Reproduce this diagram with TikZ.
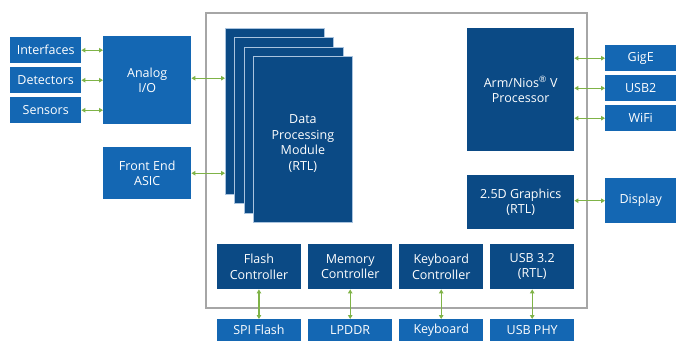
\documentclass[tikz,border=0pt]{standalone}
\usepackage{fontspec}
\setmainfont{Open Sans}
\usetikzlibrary{arrows.meta}
\definecolor{extblue}{HTML}{1467B3}
\definecolor{intblue}{HTML}{0B4A85}
\definecolor{linkgreen}{HTML}{7FB347}
\definecolor{framegray}{HTML}{A6A6A6}
\definecolor{stackedge}{HTML}{A9C3DE}
\begin{document}
\begin{tikzpicture}[x=1pt,y=-1pt,
  every node/.style={font=\fontsize{12.5}{15.5}\selectfont, text=white, align=center, inner sep=0pt, anchor=north west},
  extbox/.style={fill=extblue},
  intbox/.style={fill=intblue},
  stackbox/.style={fill=intblue, draw=stackedge, line width=0.8pt},
  link/.style={draw=linkgreen, line width=1.1pt, {Triangle[width=4.5pt,length=4pt]}-{Triangle[width=4.5pt,length=4pt]}}
]
\useasboundingbox (0,0) rectangle (684,341);

% FPGA frame
\draw[framegray, line width=1.2pt] (206,13) rectangle (587,308);

% external sources on the left
\node[extbox, minimum width=71pt, minimum height=26pt] (ifc) at (10,37) {Interfaces};
\node[extbox, minimum width=71pt, minimum height=26pt] (det) at (10,67) {Detectors};
\node[extbox, minimum width=71pt, minimum height=26pt] (sen) at (10,97) {Sensors};
\node[extbox, minimum width=88pt, minimum height=88pt] (aio) at (103,36) {Analog\\I/O};
\node[extbox, minimum width=88pt, minimum height=52pt] (fe) at (103,147) {Front End\\ASIC};

% stacked data processing modules
\node[stackbox, minimum width=99pt, minimum height=166pt] (s1) at (225,27.5) {};
\node[stackbox, minimum width=99pt, minimum height=166pt] (s2) at (234,37) {};
\node[stackbox, minimum width=99pt, minimum height=166pt] (s3) at (243.5,46.5) {};
\node[stackbox, minimum width=99pt, minimum height=166pt] (dpm) at (253,56) {};
\node[anchor=center] (dpmlabel) at ([yshift=-4pt]dpm.center) {Data\\Processing\\Module\\(RTL)};

% processor and graphics
\node[intbox, minimum width=107pt, minimum height=123pt] (cpu) at (467,28) {Arm/Nios\textsuperscript{®} V\\Processor};
\node[intbox, minimum width=107pt, minimum height=54pt] (gfx) at (467,175) {2.5D Graphics\\(RTL)};

% external peripherals on the right
\node[extbox, minimum width=71pt, minimum height=26pt] (gige) at (605,45) {GigE};
\node[extbox, minimum width=71pt, minimum height=26pt] (usb2) at (605,75) {USB2};
\node[extbox, minimum width=71pt, minimum height=26pt] (wifi) at (605,105) {WiFi};
\node[extbox, minimum width=71pt, minimum height=45pt] (disp) at (605,178) {Display};

% controllers
\node[intbox, minimum width=83.5pt, minimum height=45pt] (flc) at (217,244) {Flash\\Controller};
\node[intbox, minimum width=84pt, minimum height=45pt] (mc) at (308,244) {Memory\\Controller};
\node[intbox, minimum width=84pt, minimum height=45pt] (kc) at (399,244) {Keyboard\\Controller};
\node[intbox, minimum width=84pt, minimum height=45pt] (usb3) at (490,244) {USB 3.2\\(RTL)};

% external memory and devices
\node[extbox, minimum width=83.5pt, minimum height=21.5pt] (spi) at (217,319) {SPI Flash};
\node[extbox, minimum width=84pt, minimum height=21.5pt] (ddr) at (308,319) {LPDDR};
\node[extbox, minimum width=84pt, minimum height=21.5pt] (kb) at (399,319) {Keyboard};
\node[extbox, minimum width=84pt, minimum height=21.5pt] (phy) at (490,319) {USB PHY};

% links
\draw[link] (ifc.east) -- (ifc.east -| aio.west);
\draw[link] (det.east) -- (det.east -| aio.west);
\draw[link] (sen.east) -- (sen.east -| aio.west);
\draw[link] ([yshift=2pt]aio.east) -- ([yshift=2pt]aio.east -| s1.west);
\draw[link] (fe.east) -- (fe.east -| s1.west);
\draw[link] (gige.west -| cpu.east) -- (gige.west);
\draw[link] (usb2.west -| cpu.east) -- (usb2.west);
\draw[link] (wifi.west -| cpu.east) -- (wifi.west);
\draw[link] (disp.west -| gfx.east) -- (disp.west);
\draw[link] (flc.south) -- (spi.north);
\draw[link] (mc.south) -- (ddr.north);
\draw[link] (kc.south) -- (kb.north);
\draw[link] (usb3.south) -- (phy.north);
\end{tikzpicture}
\end{document}
